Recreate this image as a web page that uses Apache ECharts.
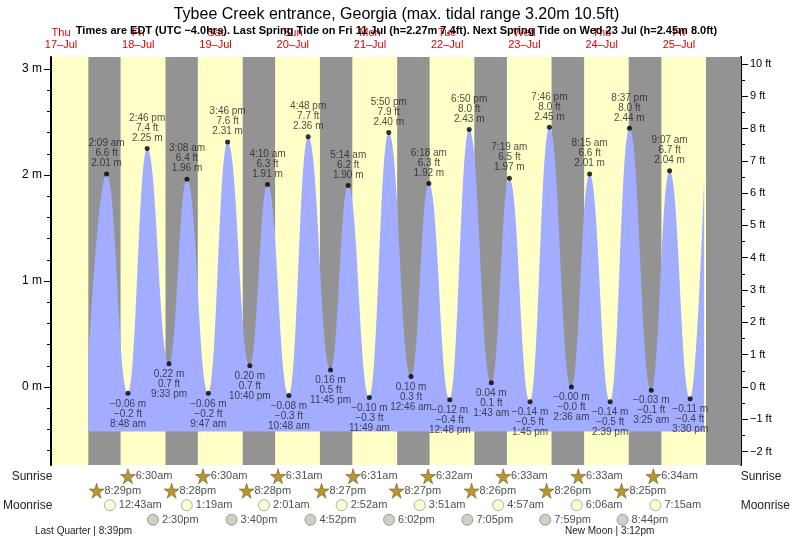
<!DOCTYPE html>
<html>
<head>
<meta charset="utf-8">
<title>Tybee Creek entrance tides</title>
<script src="https://cdn.jsdelivr.net/npm/echarts@6/dist/echarts.min.js"></script>
<style>body{margin:0;background:#fff}#chart{width:793px;height:539px}</style>
</head>
<body>
<div id="chart"></div>
<script type="text/javascript">
// tide extremes: [day of July, time, metres, feet]
var extremes = [
    [18, '2:09 am', '2.01', '6.6'], [18, '8:48 am', '-0.06', '-0.2'], [18, '2:46 pm', '2.25', '7.4'], [18, '9:33 pm', '0.22', '0.7'],
    [19, '3:08 am', '1.96', '6.4'], [19, '9:47 am', '-0.06', '-0.2'], [19, '3:46 pm', '2.31', '7.6'], [19, '10:40 pm', '0.20', '0.7'],
    [20, '4:10 am', '1.91', '6.3'], [20, '10:48 am', '-0.08', '-0.3'], [20, '4:48 pm', '2.36', '7.7'], [20, '11:45 pm', '0.16', '0.5'],
    [21, '5:14 am', '1.90', '6.2'], [21, '11:49 am', '-0.10', '-0.3'], [21, '5:50 pm', '2.40', '7.9'],
    [22, '12:46 am', '0.10', '0.3'], [22, '6:18 am', '1.92', '6.3'], [22, '12:48 pm', '-0.12', '-0.4'], [22, '6:50 pm', '2.43', '8.0'],
    [23, '1:43 am', '0.04', '0.1'], [23, '7:19 am', '1.97', '6.5'], [23, '1:45 pm', '-0.14', '-0.5'], [23, '7:46 pm', '2.45', '8.0'],
    [24, '2:36 am', '-0.00', '-0.0'], [24, '8:15 am', '2.01', '6.6'], [24, '2:39 pm', '-0.14', '-0.5'], [24, '8:37 pm', '2.44', '8.0'],
    [25, '3:25 am', '-0.03', '-0.1'], [25, '9:07 am', '2.04', '6.7'], [25, '3:30 pm', '-0.11', '-0.4']
];
// where the drawn curve starts and stops
var curveStart = [17, '8:27 pm', 0.21];
var curveEnd = [25, '7:50 pm', 1.95];

var sunrise = [[18, '6:30am'], [19, '6:30am'], [20, '6:31am'], [21, '6:31am'], [22, '6:32am'], [23, '6:33am'], [24, '6:33am'], [25, '6:34am']];
var sunset = [[17, '8:29pm'], [18, '8:28pm'], [19, '8:28pm'], [20, '8:27pm'], [21, '8:27pm'], [22, '8:26pm'], [23, '8:26pm'], [24, '8:25pm']];
var lastSunset = [25, '8:25pm'];
var moonrise = [[18, '12:43am'], [19, '1:19am'], [20, '2:01am'], [21, '2:52am'], [22, '3:51am'], [23, '4:57am'], [24, '6:06am'], [25, '7:15am']];
var moonset = [[18, '2:30pm'], [19, '3:40pm'], [20, '4:52pm'], [21, '6:02pm'], [22, '7:05pm'], [23, '7:59pm'], [24, '8:44pm']];

var dayNames = ['Thu', 'Fri', 'Sat', 'Sun', 'Mon', 'Tue', 'Wed', 'Thu', 'Fri'];
var dayDates = [17, 18, 19, 20, 21, 22, 23, 24, 25];
var mTicks = [0, 1, 2, 3];
var ftTicks = [-2, -1, 0, 1, 2, 3, 4, 5, 6, 7, 8, 9, 10];

var X_MIN = 8.88, X_MAX = 223.3;
var Y_MIN = -0.736, Y_MAX = 3.113, FT = 3.28084;
var BASE = -0.42;

function hr(day, t) {
    var m = t.match(/(\d+):(\d+)\s*(am|pm)/);
    var h = (+m[1]) % 12;
    if (m[3] == 'pm') h += 12;
    return (day - 17) * 24 + h + (+m[2]) / 60;
}
function minus(s) { return s.replace('-', '\u2212'); }

var tide = [[hr(curveStart[0], curveStart[1]), curveStart[2]]];
var highs = [], lows = [];
for (var i = 0; i < extremes.length; i++) {
    var e = extremes[i];
    var p = [hr(e[0], e[1]), +e[2], e[1], e[2], e[3]];
    tide.push([p[0], p[1]]);
    var prev = i > 0 ? +extremes[i - 1][2] : curveStart[2];
    (p[1] > prev ? highs : lows).push(p);
}
tide.push([hr(curveEnd[0], curveEnd[1]), curveEnd[2]]);

// night bands: sunset -> next sunrise
var nights = [];
for (var i = 0; i < sunset.length; i++) {
    nights.push([{ xAxis: hr(sunset[i][0], sunset[i][1]) }, { xAxis: hr(sunrise[i][0], sunrise[i][1]) }]);
}
nights.push([{ xAxis: hr(lastSunset[0], lastSunset[1]) }, { xAxis: X_MAX }]);

var minorM = [], minorFt = [];
for (var v = -0.6; v <= 3.05; v += 0.2) minorM.push(+v.toFixed(1));
for (var v = -2; v <= 10.05; v += 0.5) minorFt.push(v);

var star = 'path://M50,0 L61,35 L98,35 L68,57 L79,91 L50,70 L21,91 L32,57 L2,35 L39,35 Z';
function rowData(list, row) {
    return list.map(function (d) { return { value: [hr(d[0], d[1]), row], label: { formatter: d[1] } }; });
}
var font = 'Liberation Sans, Arial, sans-serif';

var myChart = echarts.init(document.getElementById('chart'));
var option = {
    animation: false,
    textStyle: { fontFamily: font },
    title: [
        { text: 'Tybee Creek entrance, Georgia (max. tidal range 3.20m 10.5ft)', left: 'center', top: 2,
          textStyle: { fontSize: 16, fontWeight: 'normal', color: '#000', fontFamily: font } },
        { text: 'Times are EDT (UTC \u22124.0hrs). Last Spring Tide on Fri 11 Jul (h=2.27m 7.4ft). Next Spring Tide on Wed 23 Jul (h=2.45m 8.0ft)',
          left: 'center', top: 20, textStyle: { fontSize: 11, fontWeight: 'bold', color: '#000', fontFamily: font } }
    ],
    graphic: [
        { type: 'text', left: 35, top: 526, style: { text: 'Last Quarter | 8:39pm', font: '10px ' + font, fill: '#222' } },
        { type: 'text', left: 565, top: 526, style: { text: 'New Moon | 3:12pm', font: '10px ' + font, fill: '#222' } }
    ],
    grid: [
        { left: 51, right: 52, top: 57, bottom: 74, show: true, backgroundColor: '#ffffc8', borderWidth: 0 },
        { left: 51, right: 52, top: 469, height: 58 }
    ],
    xAxis: [
        { type: 'value', gridIndex: 0, min: X_MIN, max: X_MAX, position: 'top',
          axisLine: { show: false }, axisTick: { show: false }, splitLine: { show: false },
          axisLabel: { customValues: dayDates.map(function (d) { return (d - 17) * 24 + 12; }),
              formatter: function (v) { var i = Math.round((v - 12) / 24); return dayNames[i] + '\n' + dayDates[i] + '\u2013Jul'; },
              color: '#e00000', fontSize: 11, lineHeight: 12, margin: 6 } },
        { type: 'value', gridIndex: 1, min: X_MIN, max: X_MAX, show: false }
    ],
    yAxis: [
        { type: 'value', gridIndex: 0, min: Y_MIN, max: Y_MAX, position: 'left', splitLine: { show: false },
          axisLine: { show: true, lineStyle: { color: '#000', width: 2 } },
          axisTick: { customValues: mTicks, length: 7, lineStyle: { color: '#000' } },
          axisLabel: { customValues: mTicks, formatter: '{value} m', color: '#000', fontSize: 12, margin: 9 } },
        { type: 'value', gridIndex: 0, min: Y_MIN * FT, max: Y_MAX * FT, position: 'right', splitLine: { show: false },
          axisLine: { show: true, lineStyle: { color: '#000', width: 2 } },
          axisTick: { customValues: ftTicks, length: 7, lineStyle: { color: '#000' } },
          axisLabel: { customValues: ftTicks, formatter: function (v) { return minus(v + '') + ' ft'; }, color: '#000', fontSize: 11, margin: 9 } },
        { type: 'value', gridIndex: 0, min: Y_MIN, max: Y_MAX, position: 'left', splitLine: { show: false },
          axisLine: { show: false }, axisLabel: { show: false },
          axisTick: { customValues: minorM, length: 4, lineStyle: { color: '#000' } } },
        { type: 'value', gridIndex: 0, min: Y_MIN * FT, max: Y_MAX * FT, position: 'right', splitLine: { show: false },
          axisLine: { show: false }, axisLabel: { show: false },
          axisTick: { customValues: minorFt, length: 4, lineStyle: { color: '#000' } } },
        { type: 'category', gridIndex: 1, inverse: true, data: ['Sunrise', 'Sunset', 'Moonrise', 'Moonset'], position: 'left',
          axisLine: { show: false }, axisTick: { show: false }, axisLabel: { color: '#222', fontSize: 12, margin: 8 } },
        { type: 'category', gridIndex: 1, inverse: true, data: ['Sunrise', 'Sunset', 'Moonrise', 'Moonset'], position: 'right',
          axisLine: { show: false }, axisTick: { show: false }, axisLabel: { color: '#222', fontSize: 12, margin: 10 } }
    ],
    series: [
        { type: 'line', xAxisIndex: 0, yAxisIndex: 0, data: [], z: 1, silent: true,
          markArea: { silent: true, itemStyle: { color: '#939393' }, data: nights } },
        { type: 'line', xAxisIndex: 0, yAxisIndex: 0, data: tide, z: 2, smooth: 0.45, smoothMonotone: 'x',
          showSymbol: false, lineStyle: { width: 0 }, areaStyle: { color: '#a3adff', opacity: 1, origin: BASE } },
        { type: 'scatter', xAxisIndex: 0, yAxisIndex: 0, z: 3, symbolSize: 5, itemStyle: { color: '#000' },
          data: highs.map(function (p) { return { value: [p[0], p[1]], label: { formatter: p[2] + '\n' + minus(p[4]) + ' ft\n' + minus(p[3]) + ' m' } }; }),
          label: { show: true, position: 'top', distance: 3, fontSize: 10, lineHeight: 10, color: '#222' } },
        { type: 'scatter', xAxisIndex: 0, yAxisIndex: 0, z: 3, symbolSize: 5, itemStyle: { color: '#000' },
          data: lows.map(function (p) { return { value: [p[0], p[1]], label: { formatter: minus(p[3]) + ' m\n' + minus(p[4]) + ' ft\n' + p[2] } }; }),
          label: { show: true, position: 'bottom', distance: 3, fontSize: 10, lineHeight: 10, color: '#222' } },
        { type: 'scatter', xAxisIndex: 1, yAxisIndex: 4, symbol: star, symbolSize: 15,
          itemStyle: { color: '#a87b00', borderColor: '#5a4200', borderWidth: 0.6 },
          data: rowData(sunrise, 'Sunrise').concat(rowData(sunset, 'Sunset')),
          label: { show: true, position: 'right', distance: 0, fontSize: 11, color: '#222' } },
        { type: 'scatter', xAxisIndex: 1, yAxisIndex: 4, symbol: 'circle', symbolSize: 11,
          itemStyle: { color: '#ffffc8', borderColor: '#999', borderWidth: 1 }, data: rowData(moonrise, 'Moonrise'),
          label: { show: true, position: 'right', distance: 3, fontSize: 11, color: '#222' } },
        { type: 'scatter', xAxisIndex: 1, yAxisIndex: 4, symbol: 'circle', symbolSize: 11,
          itemStyle: { color: '#c3c3b5', borderColor: '#888', borderWidth: 1 }, data: rowData(moonset, 'Moonset'),
          label: { show: true, position: 'right', distance: 3, fontSize: 11, color: '#222' } }
    ]
};
myChart.setOption(option);
</script>
</body>
</html>
